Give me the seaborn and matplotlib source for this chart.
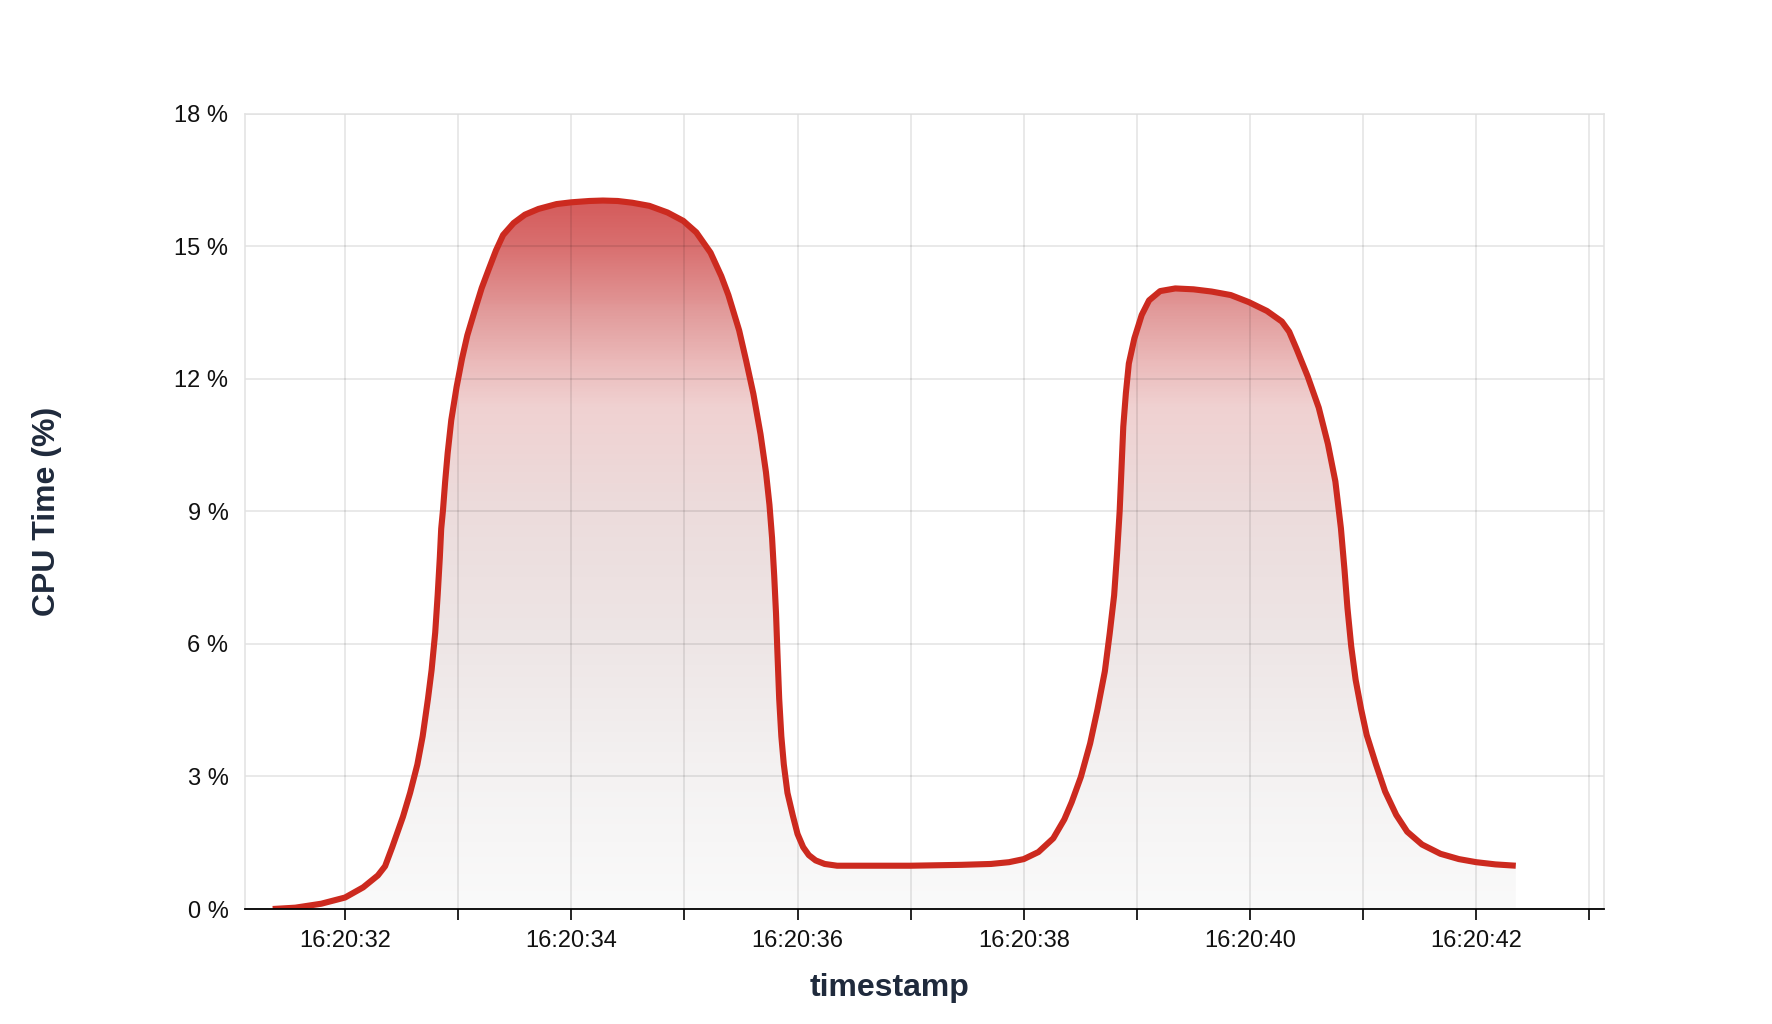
import numpy as np
import pandas as pd
import matplotlib
matplotlib.use("Agg")
import matplotlib.pyplot as plt
from matplotlib.colors import LinearSegmentedColormap, Normalize
from matplotlib.patches import Polygon
import seaborn as sns

# seconds after 16:20:00
seconds = [31.36, 31.56, 31.79, 32.00, 32.16, 32.29, 32.354, 32.417, 32.512, 32.575,
           32.639, 32.686, 32.733, 32.765, 32.797, 32.819, 32.838, 32.850, 32.866, 32.885,
           32.907, 32.939, 32.986, 33.034, 33.081, 33.144, 33.208, 33.271, 33.334, 33.397,
           33.49, 33.59, 33.71, 33.87, 34.00, 34.16, 34.28, 34.41, 34.54, 34.69,
           34.85, 34.99, 35.105, 35.231, 35.326, 35.389, 35.484, 35.547, 35.610, 35.673,
           35.721, 35.752, 35.775, 35.794, 35.810, 35.822, 35.838, 35.857, 35.879, 35.911,
           35.958, 36.00, 36.05, 36.10, 36.16, 36.24, 36.35, 37.00, 37.45, 37.71,
           37.87, 38.00, 38.13, 38.261, 38.359, 38.424, 38.505, 38.587, 38.652, 38.717,
           38.760, 38.799, 38.825, 38.848, 38.864, 38.880, 38.903, 38.929, 38.978, 39.043,
           39.108, 39.206, 39.34, 39.50, 39.66, 39.83, 39.99, 40.15, 40.282, 40.347,
           40.412, 40.510, 40.608, 40.689, 40.755, 40.804, 40.836, 40.862, 40.895, 40.934,
           40.983, 41.032, 41.113, 41.195, 41.293, 41.390, 41.521, 41.684, 41.847, 42.00,
           42.17, 42.35]
cpu_pct = [0.00, 0.03, 0.12, 0.26, 0.49, 0.76, 0.97, 1.40, 2.09, 2.63,
           3.27, 3.91, 4.76, 5.41, 6.26, 7.12, 7.97, 8.61, 9.04, 9.68,
           10.32, 11.07, 11.82, 12.46, 12.99, 13.53, 14.06, 14.49, 14.91, 15.26,
           15.53, 15.72, 15.85, 15.96, 16.00, 16.03, 16.04, 16.03, 15.99, 15.92,
           15.77, 15.58, 15.32, 14.86, 14.33, 13.90, 13.10, 12.40, 11.66, 10.75,
           9.89, 9.15, 8.40, 7.54, 6.69, 5.83, 4.76, 3.91, 3.27, 2.63,
           2.12, 1.70, 1.40, 1.22, 1.10, 1.02, 0.98, 0.98, 1.00, 1.02,
           1.06, 1.13, 1.29, 1.60, 2.03, 2.42, 2.99, 3.75, 4.52, 5.38,
           6.24, 7.10, 8.05, 9.01, 9.96, 10.92, 11.68, 12.35, 12.92, 13.45,
           13.78, 13.99, 14.05, 14.03, 13.98, 13.90, 13.74, 13.54, 13.30, 13.07,
           12.68, 12.06, 11.35, 10.53, 9.68, 8.62, 7.67, 6.81, 5.95, 5.19,
           4.52, 3.94, 3.28, 2.66, 2.13, 1.75, 1.46, 1.25, 1.13, 1.06,
           1.01, 0.98]

x_ticks = list(range(32, 44))
x_tick_labels = ["16:20:32", "", "16:20:34", "", "16:20:36", "", "16:20:38", "",
                 "16:20:40", "", "16:20:42", ""]
y_ticks = [0, 3, 6, 9, 12, 15, 18]
y_tick_labels = ["0 %", "3 %", "6 %", "9 %", "12 %", "15 %", "18 %"]

df = pd.DataFrame({"timestamp": seconds, "cpu": cpu_pct})

sns.set_theme(style="white")
plt.rcParams["font.family"] = ["Liberation Sans", "DejaVu Sans"]

fig = plt.figure(figsize=(17.72, 10.24), dpi=100)
ax = fig.add_axes([0.1383, 0.1123, 0.9052 - 0.1383, 0.8887 - 0.1123])

xmin, xmax = 31.116, 43.13
ax.set_xlim(xmin, xmax)
ax.set_ylim(0, 18)

# gradient fill under the curve
grad_pos = [0, 3, 6, 9, 11.4, 12.4, 13.5, 15, 16.2]
grad_col = ["#fafafa", "#f4f2f2", "#eee6e6", "#ecdcdc", "#f0d1d1",
            "#ebbaba", "#e29c9c", "#d97070", "#d45858"]
cmap = LinearSegmentedColormap.from_list(
    "cpu", list(zip(np.array(grad_pos) / grad_pos[-1], grad_col)))
col = np.linspace(0, grad_pos[-1], 500).reshape(-1, 1)
im = ax.imshow(col, cmap=cmap, norm=Normalize(0, grad_pos[-1]), origin="lower",
               extent=[xmin, xmax, 0, grad_pos[-1]], aspect="auto", zorder=1,
               interpolation="bilinear")
verts = [(seconds[0], 0)] + list(zip(seconds, cpu_pct)) + [(seconds[-1], 0)]
poly = Polygon(verts, closed=True, facecolor="none", edgecolor="none",
               transform=ax.transData)
ax.add_patch(poly)
im.set_clip_path(poly)

sns.lineplot(data=df, x="timestamp", y="cpu", ax=ax, color="#cc2a1f",
             linewidth=4.4, sort=False, zorder=3, solid_capstyle="butt",
             solid_joinstyle="round")

ax.set_xlim(xmin, xmax)
ax.set_ylim(0, 18)
ax.set_xticks(x_ticks)
ax.set_xticklabels(x_tick_labels)
ax.set_yticks(y_ticks)
ax.set_yticklabels(y_tick_labels)

ax.set_axisbelow("line")
ax.grid(True, color="black", alpha=0.11, linewidth=1.1)

for side in ["left", "top", "right"]:
    ax.spines[side].set_color("#e2e2e2")
    ax.spines[side].set_linewidth(1.1)
ax.spines["bottom"].set_color("black")
ax.spines["bottom"].set_linewidth(1.3)
ax.spines["bottom"].set_zorder(4)

ax.tick_params(axis="x", direction="out", length=8, width=1.2, color="black",
               pad=7, labelsize=17, labelcolor="#111111", bottom=True)
ax.tick_params(axis="y", length=0, pad=12, labelsize=17, labelcolor="#111111")

ax.set_xlabel("timestamp", fontsize=23, fontweight="bold", color="#1f2a3c")
ax.xaxis.set_label_coords(0.474, -0.080)
ax.set_ylabel("CPU Time (%)", fontsize=23, fontweight="bold", color="#1f2a3c",
              labelpad=81)

fig.savefig("out.png", dpi=100, facecolor="white")
